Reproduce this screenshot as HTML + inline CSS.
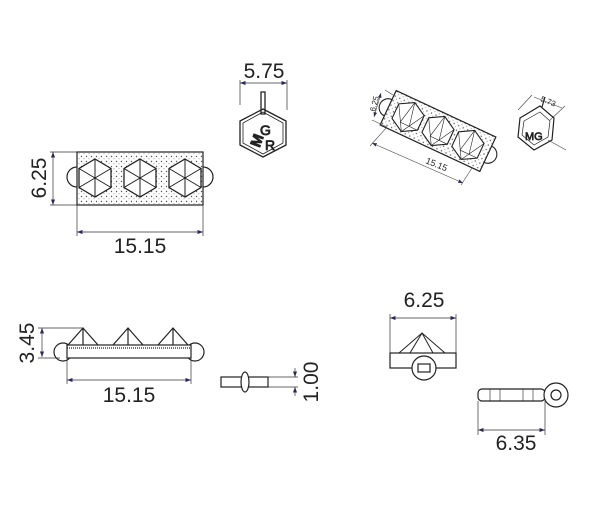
<!DOCTYPE html>
<html><head><meta charset="utf-8"><style>
html,body{margin:0;padding:0;background:#fff;width:600px;height:508px;overflow:hidden}
text{font-family:"Liberation Sans","DejaVu Sans",sans-serif;fill:#222}
</style></head><body>
<svg width="600" height="508" viewBox="0 0 600 508" xmlns="http://www.w3.org/2000/svg">
<defs>
<marker id="a" markerWidth="8" markerHeight="6" refX="8" refY="3" orient="auto-start-reverse"><path d="M0,0 L8,3 L0,6z" fill="#2a2a5a"/></marker>
<g id="hex"><polygon points="0,-19 16,-9.5 16,9.5 0,19 -16,9.5 -16,-9.5" fill="#fff" stroke="#222" stroke-width="1.3"/><path d="M0,-19V19M16,-9.5L-16,9.5M16,9.5L-16,-9.5" stroke="#222" stroke-width="1"/></g>
<g id="hex2"><polygon points="0,-16 14,-8 14,8 0,16 -14,8 -14,-8" fill="#fff" stroke="#222" stroke-width="1.1"/><path d="M0,-16L-5,8L14,8M0,-16L5,8M-14,-8L0,16L14,-8" stroke="#222" stroke-width="0.6" fill="none"/></g>
<pattern id="dots" width="5" height="5" patternUnits="userSpaceOnUse"><circle cx="1.5" cy="1.5" r="0.7" fill="#555"/><circle cx="4" cy="3.8" r="0.5" fill="#777"/></pattern>
</defs>
<g stroke="#222" fill="none" stroke-width="1.2">
<path d="M77,167 A10,10 0 0 0 77,187 M203,167 A10,10 0 0 1 203,187"/>
<rect x="77" y="152" width="126" height="53" fill="url(#dots)"/>
</g>
<use href="#hex" x="95" y="178"/><use href="#hex" x="140" y="178"/><use href="#hex" x="185" y="178"/>
<g stroke="#333" stroke-width="0.7" fill="none">
<path d="M50,152H77M50,205H77M77,205V236M203,205V236"/>
<line x1="53" y1="152" x2="53" y2="205" marker-start="url(#a)" marker-end="url(#a)"/>
<line x1="77" y1="232" x2="203" y2="232" marker-start="url(#a)" marker-end="url(#a)"/>
<path d="M240,80V105M287,80V110"/>
<line x1="240" y1="83" x2="287" y2="83" marker-start="url(#a)" marker-end="url(#a)"/>
</g>
<text x="140" y="253" font-size="21" text-anchor="middle">15.15</text>
<text transform="translate(46,178) rotate(-90)" font-size="21" text-anchor="middle">6.25</text>
<text x="264" y="78" font-size="21" text-anchor="middle">5.75</text>
<!-- cube -->
<g stroke="#222" fill="none" stroke-width="1.3">
<path d="M261,92h4v22h-4z"/>
<polygon points="263,109 286,121 286,145 263,157 240,145 240,121" stroke-linejoin="round"/>
<polygon points="263,112 283,123 283,143 263,154 243,143 243,123" stroke-width="0.8"/>
</g>
<text x="247" y="150" font-size="15" font-weight="bold" transform="rotate(-70 252 140)" fill="none" stroke="#222" stroke-width="0.8">M</text>
<text x="260" y="135" font-size="14" fill="none" stroke="#222" stroke-width="0.8">G</text>
<text x="265" y="150" font-size="14" fill="none" stroke="#222" stroke-width="0.8">R</text>
<!-- iso view -->
<g transform="translate(438,131) rotate(25)">
<path d="M-55,-9 A9,9 0 0 0 -55,9 M55,-9 A9,9 0 0 1 55,9" stroke="#222" fill="none" stroke-width="1.1"/>
<rect x="-55" y="-19" width="110" height="38" fill="url(#dots)" stroke="#222" stroke-width="1.2"/>
<use href="#hex2" x="-33" y="0"/><use href="#hex2" x="0" y="0"/><use href="#hex2" x="33" y="0"/>
</g>
<g stroke="#444" stroke-width="0.6" fill="none">
<path d="M387,127L370,146M472,168L461,185M393,95L385,90M387,127L372,120"/>
<line x1="372" y1="143" x2="463" y2="183" marker-start="url(#a)" marker-end="url(#a)"/>
<line x1="381" y1="93" x2="374" y2="117" marker-start="url(#a)" marker-end="url(#a)"/>
<path d="M518,110L532,95M550,120L565,106M534,97L562,108M548,140L566,150"/>
</g>
<text transform="translate(425,163) rotate(22)" font-size="9" fill="#555">15.15</text>
<text transform="translate(375,112) rotate(-75)" font-size="8" fill="#555">6.25</text>
<text transform="translate(540,101) rotate(22)" font-size="8" fill="#555">5.73</text>
<g stroke="#222" fill="none" stroke-width="1.2">
<polygon points="520,118 540,106 554,118 552,140 534,150 518,137"/>
<polygon points="524,121 540,112 550,121 548,137 534,145 522,135" stroke-width="0.7"/>
<path d="M542,107L545,97"/>
</g>
<text x="525" y="140" font-size="11" fill="none" stroke="#222" stroke-width="0.7">MG</text>
<!-- bottom-left front view -->
<g stroke="#222" fill="none" stroke-width="1.2">
<circle cx="63" cy="352" r="9"/><circle cx="195" cy="352" r="9"/>
<rect x="67" y="345" width="124" height="13" fill="#fff"/>
<path d="M67,348H191" stroke-dasharray="1,1"/>
<path d="M68,345L83,328L98,345M113,345L128,328L143,345M158,345L173,328L188,345M83,328V345M128,328V345M173,328V345"/>
</g>
<g stroke="#333" stroke-width="0.7" fill="none">
<path d="M38,328H83M38,358H60M67,358V384M191,358V384"/>
<line x1="42" y1="328" x2="42" y2="357" marker-start="url(#a)" marker-end="url(#a)"/>
<line x1="67" y1="380" x2="191" y2="380" marker-start="url(#a)" marker-end="url(#a)"/>
</g>
<text x="129" y="402" font-size="21" text-anchor="middle">15.15</text>
<text transform="translate(34,343) rotate(-90)" font-size="21" text-anchor="middle">3.45</text>
<!-- small side view -->
<g stroke="#222" fill="none" stroke-width="1.2">
<rect x="221" y="377" width="47" height="10"/>
<ellipse cx="245" cy="382" rx="4" ry="10" fill="#fff"/>
</g>
<g stroke="#333" stroke-width="0.7" fill="none">
<path d="M268,377H298M268,387H298"/>
<line x1="295" y1="368" x2="295" y2="377" marker-end="url(#a)"/>
<line x1="295" y1="396" x2="295" y2="387" marker-end="url(#a)"/>
</g>
<text transform="translate(318,382) rotate(-90)" font-size="21" text-anchor="middle">1.00</text>
<!-- bottom-right end view -->
<g stroke="#222" fill="none" stroke-width="1.2">
<rect x="390" y="353" width="66" height="15"/>
<path d="M399,353L422,333L445,353M410,353L422,333L433,353" stroke-width="1"/>
<circle cx="424" cy="368" r="12" fill="#fff"/>
<rect x="418" y="364" width="12" height="8"/>
<rect x="478" y="389" width="67" height="12" rx="4"/>
<path d="M490,389V401M500,389V401M523,389V401M533,389V401" stroke-width="0.6"/>
<circle cx="556" cy="395" r="12" fill="#fff"/><circle cx="556" cy="395" r="5"/>
</g>
<g stroke="#333" stroke-width="0.7" fill="none">
<path d="M390,314V353M456,314V353M478,401V435M545,401V435"/>
<line x1="390" y1="318" x2="456" y2="318" marker-start="url(#a)" marker-end="url(#a)"/>
<line x1="478" y1="430" x2="545" y2="430" marker-start="url(#a)" marker-end="url(#a)"/>
</g>
<text x="424" y="307" font-size="21" text-anchor="middle">6.25</text>
<text x="516" y="450" font-size="21" text-anchor="middle">6.35</text>
</svg>
</body></html>
